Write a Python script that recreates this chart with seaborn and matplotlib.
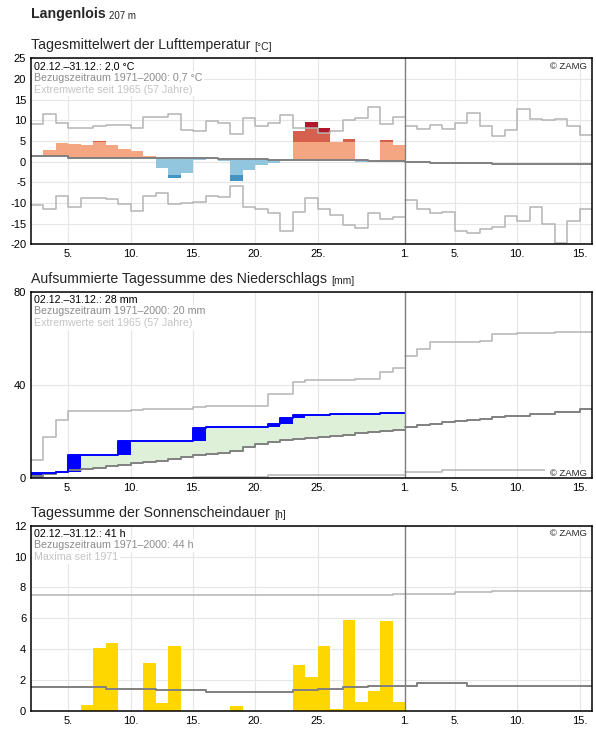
import matplotlib
matplotlib.use("Agg")
import matplotlib.pyplot as plt
import seaborn as sns

# day axis: 2 = 2.12., 31 = 31.12., 32 = 1.1., 46 = 15.1.
DEC_DAYS = list(range(2, 32))
JAN_DAYS = list(range(32, 47))
XTICKS = [5, 10, 15, 20, 25, 32, 36, 41, 46]
XTICK_LABELS = ["5.", "10.", "15.", "20.", "25.", "1.", "5.", "10.", "15."]

# --- air temperature (°C), daily mean 2.12.-31.12.
TEMP = [1.25, 2.8, 4.45, 4.3, 4.0, 4.9, 4.0, 3.0, 2.5, 1.3,
        -1.6, -4.0, -2.8, 0.4, 1.0, 0.1, -4.7, -2.0, -0.9, -0.3,
        0.5, 7.3, 9.5, 8.1, 4.8, 5.4, -0.1, 0.1, 5.2, 4.0]
TEMP_NORMAL_DEC = [1.25, 1.25, 1.25, 1.0, 1.0, 1.0, 1.0, 1.0, 1.0, 1.0,
                   1.0, 1.0, 1.0, 1.0, 1.0, 0.75, 0.75, 0.75, 0.75, 0.5,
                   0.5, 0.5, 0.5, 0.5, 0.3, 0.3, 0.3, 0.1, 0.1, 0.1]
TEMP_NORMAL_JAN = [-0.2, -0.2, -0.3, -0.3, -0.4, -0.4, -0.4, -0.5, -0.5, -0.5,
                   -0.6, -0.6, -0.6, -0.6, -0.5]
TEMP_MAX_DEC = [9.2, 11.6, 9.4, 8.2, 8.2, 8.7, 8.9, 8.9, 8.2, 10.9,
                10.9, 11.6, 7.7, 7.5, 9.9, 9.4, 6.8, 10.6, 8.7, 9.4,
                11.3, 8.2, 8.2, 7.0, 7.5, 10.1, 10.6, 13.3, 9.2, 10.7]
TEMP_MAX_JAN = [8.5, 8.0, 8.9, 8.0, 9.25, 11.8, 8.5, 6.1, 7.7, 12.8,
                10.4, 10.1, 10.4, 8.5, 6.5]
TEMP_MIN_DEC = [-10.5, -11.5, -8.2, -11.0, -8.9, -8.9, -9.1, -10.3, -11.9, -8.2,
                -7.5, -10.3, -10.0, -9.7, -8.2, -8.5, -6.0, -10.9, -11.5, -12.5,
                -16.9, -12.2, -8.8, -11.5, -13.0, -15.3, -16.1, -12.5, -13.9, -13.3]
TEMP_MIN_JAN = [-9.4, -11.5, -12.5, -12.2, -16.8, -17.2, -16.3, -15.8, -13.1, -14.4,
                -11.0, -15.0, -19.7, -14.4, -11.5]
TEMP_WARM_LIMIT = 4.8
TEMP_COLD_LIMIT = -3.3

# --- precipitation (mm)
PRECIP_DAILY = [2.4, 0.0, 0.4, 7.0, 0.0, 0.0, 0.0, 6.4, 0.0, 0.0,
                0.0, 0.0, 0.0, 5.5, 0.4, 0.0, 0.0, 0.0, 0.0, 1.1,
                2.7, 1.3, 0.0, 0.0, 0.4, 0.0, 0.0, 0.0, 0.4, 0.0]
PRECIP_NORMAL_DEC = [1.0, 1.8, 2.8, 3.4, 4.0, 4.4, 5.2, 5.9, 6.4, 6.9,
                     7.6, 8.2, 9.2, 10.0, 10.6, 11.0, 11.7, 13.3, 14.7, 15.7,
                     16.3, 16.7, 17.3, 17.6, 18.0, 18.6, 19.4, 19.8, 20.3, 20.6]
PRECIP_NORMAL_JAN = [22.1, 22.7, 23.4, 24.1, 24.7, 25.1, 25.5, 26.1, 26.5, 26.9,
                     27.7, 27.7, 28.5, 28.5, 29.9]
PRECIP_MAX_DEC = [7.7, 17.7, 25.1, 28.9, 28.9, 28.9, 28.9, 28.9, 29.4, 29.9,
                  29.9, 29.9, 29.9, 30.5, 31.1, 31.1, 31.1, 31.1, 31.1, 36.2,
                  36.2, 41.4, 42.1, 42.1, 42.1, 42.1, 42.4, 42.4, 45.5, 47.2]
PRECIP_MAX_JAN = [52.6, 55.3, 58.3, 58.3, 58.3, 58.3, 58.7, 61.7, 61.7, 62.1,
                  62.1, 62.1, 62.6, 62.6, 62.6]
PRECIP_MIN_DEC = [0.0] * 13 + [0.4] * 6 + [1.3] * 11
PRECIP_MIN_JAN = [2.8, 2.8, 2.8] + [3.4] * 12

# --- sunshine duration (h)
SUN = [0.0, 0.0, 0.0, 0.0, 0.4, 4.1, 4.4, 0.0, 0.0, 3.1,
       0.5, 4.2, 0.0, 0.0, 0.0, 0.0, 0.3, 0.0, 0.0, 0.0,
       0.0, 3.0, 2.2, 4.2, 0.1, 5.9, 0.6, 1.3, 5.8, 0.6]
SUN_NORMAL_DEC = [1.55] * 6 + [1.45] * 4 + [1.35] * 4 + [1.25] * 7 + \
                 [1.35] * 2 + [1.45] * 2 + [1.55] * 2 + [1.65] * 3
SUN_NORMAL_JAN = [1.65] + [1.8] * 4 + [1.65] * 10
SUN_MAX_DEC = [7.5] * 29 + [7.6]
SUN_MAX_JAN = [7.6] * 4 + [7.7] * 3 + [7.8] * 8

GRAY_EXT = "#b4b4b4"
GRAY_NORM = "#808080"

sns.set_theme(style="white")
plt.rcParams["font.family"] = ["Liberation Sans", "DejaVu Sans"]
plt.rcParams["axes.unicode_minus"] = False

W, H = 596, 729
fig = plt.figure(figsize=(W / 100, H / 100), dpi=100)


def make_axes(top, bottom):
    ax = fig.add_axes([31 / W, 1 - bottom / H, (592 - 31) / W, (bottom - top) / H])
    ax.set_axisbelow(True)
    ax.grid(True, color="#e6e6e6", linewidth=0.8)
    for sp in ax.spines.values():
        sp.set_color("black")
        sp.set_linewidth(1.1)
        sp.set_zorder(3)
    ax.tick_params(length=0, pad=3.5, labelsize=8, colors="black")
    ax.set_xticks(XTICKS)
    ax.set_xticklabels(XTICK_LABELS)
    ax.set_xlim(2, 47)
    ax.axvline(32, color=GRAY_NORM, linewidth=1.0, zorder=2.35)
    return ax


def step_line(ax, days, values, color, lw):
    xs = days + [days[-1] + 1]
    ys = list(values) + [values[-1]]
    sns.lineplot(x=xs, y=ys, ax=ax, color=color, linewidth=lw,
                 drawstyle="steps-post", estimator=None, legend=False, zorder=2.3)


def panel_title(ax, text, unit):
    t = ax.annotate(text, xy=(0, 1), xycoords="axes fraction", xytext=(0, 9),
                    textcoords="offset pixels", fontsize=10.2, va="baseline", ha="left")
    ax.annotate(unit, xy=(1, 0), xycoords=t, xytext=(4, 0), textcoords="offset pixels",
                fontsize=7.5, va="bottom", ha="left")


def info_text(ax, lines):
    for (s, c), dy in zip(lines, [11, 22.7, 34.4]):
        ax.annotate(s, xy=(0, 1), xycoords="axes fraction", xytext=(3.5, -dy),
                    textcoords="offset pixels", fontsize=7.7, color=c, va="baseline",
                    ha="left", zorder=2.45,
                    bbox=dict(boxstyle="square,pad=0.15", fc="white", ec="none"))


def zamg(ax, bottom=False):
    if bottom:
        ax.annotate("© ZAMG", xy=(1, 0), xycoords="axes fraction", xytext=(-4.7, 2.6),
                    textcoords="offset pixels", fontsize=6.8, ha="right", va="baseline",
                    zorder=2.45, bbox=dict(boxstyle="square,pad=0.55", fc="white", ec="none"))
    else:
        ax.annotate("© ZAMG", xy=(1, 1), xycoords="axes fraction", xytext=(-4.7, -10.5),
                    textcoords="offset pixels", fontsize=6.8, ha="right", va="baseline",
                    zorder=2.45)


# station header
head = fig.text(31 / W, 1 - 18.3 / H, "Langenlois", fontsize=10.2, fontweight="bold",
                va="baseline", ha="left")
ax1 = make_axes(58.3, 244.3)
ax1.annotate("207 m", xy=(1, 0), xycoords=head, xytext=(3, 0), textcoords="offset pixels",
             fontsize=7, va="bottom", ha="left")

# ---- temperature
warm_cols = ["#f4a582", "#d6604d", "#b2182b"]
cold_cols = ["#92c5de", "#4393c3", "#2166ac"]
for d, v, n, hi, lo in zip(DEC_DAYS, TEMP, TEMP_NORMAL_DEC, TEMP_MAX_DEC, TEMP_MIN_DEC):
    if v > n:
        bands = [(-99, TEMP_WARM_LIMIT), (TEMP_WARM_LIMIT, hi), (hi, 99)]
        for (b0, b1), col in zip(bands, warm_cols):
            s0, s1 = max(b0, n), min(b1, v)
            if s1 > s0:
                ax1.bar(d, s1 - s0, bottom=s0, width=1, align="edge", color=col,
                        linewidth=0, zorder=2.1)
    elif v < n:
        bands = [(TEMP_COLD_LIMIT, 99), (lo, TEMP_COLD_LIMIT), (-99, lo)]
        for (b0, b1), col in zip(bands, cold_cols):
            s0, s1 = max(b0, v), min(b1, n)
            if s1 > s0:
                ax1.bar(d, s1 - s0, bottom=s0, width=1, align="edge", color=col,
                        linewidth=0, zorder=2.1)

step_line(ax1, DEC_DAYS, TEMP_MAX_DEC, GRAY_EXT, 1.1)
step_line(ax1, JAN_DAYS, TEMP_MAX_JAN, GRAY_EXT, 1.1)
step_line(ax1, DEC_DAYS, TEMP_MIN_DEC, GRAY_EXT, 1.1)
step_line(ax1, JAN_DAYS, TEMP_MIN_JAN, GRAY_EXT, 1.1)
step_line(ax1, DEC_DAYS, TEMP_NORMAL_DEC, GRAY_NORM, 1.4)
step_line(ax1, JAN_DAYS, TEMP_NORMAL_JAN, GRAY_NORM, 1.4)
ax1.set_ylim(-20, 25)
ax1.set_yticks(range(-20, 26, 5))
ax1.set_xlim(2, 47)
panel_title(ax1, "Tagesmittelwert der Lufttemperatur", "[°C]")
info_text(ax1, [("02.12.–31.12.: 2,0 °C", "black"),
                ("Bezugszeitraum 1971–2000: 0,7 °C", "#8c8c8c"),
                ("Extremwerte seit 1965 (57 Jahre)", "#c4c4c4")])
zamg(ax1)

# ---- precipitation
ax2 = make_axes(291.7, 478.3)
cum = []
total = 0.0
for p in PRECIP_DAILY:
    total += p
    cum.append(round(total, 2))
xs = DEC_DAYS + [DEC_DAYS[-1] + 1]
upper = [max(c, n) for c, n in zip(cum, PRECIP_NORMAL_DEC)]
ax2.fill_between(xs, PRECIP_NORMAL_DEC + [PRECIP_NORMAL_DEC[-1]], upper + [upper[-1]],
                 step="post", color="#dff0d8", linewidth=0, zorder=2.05)
for d, p, c in zip(DEC_DAYS, PRECIP_DAILY, cum):
    if p > 0:
        ax2.bar(d, p, bottom=c - p, width=1, align="edge", color="#0000ff",
                linewidth=0, zorder=2.1)
step_line(ax2, DEC_DAYS, PRECIP_MAX_DEC, GRAY_EXT, 1.1)
step_line(ax2, JAN_DAYS, PRECIP_MAX_JAN, GRAY_EXT, 1.1)
step_line(ax2, DEC_DAYS, PRECIP_MIN_DEC, GRAY_EXT, 1.1)
step_line(ax2, JAN_DAYS, PRECIP_MIN_JAN, GRAY_EXT, 1.1)
step_line(ax2, DEC_DAYS, PRECIP_NORMAL_DEC, GRAY_NORM, 1.4)
step_line(ax2, JAN_DAYS, PRECIP_NORMAL_JAN, GRAY_NORM, 1.4)
step_line(ax2, DEC_DAYS, cum, "#0000ff", 1.4)
ax2.set_ylim(0, 80)
ax2.set_yticks([0, 40, 80])
ax2.set_xlim(2, 47)
panel_title(ax2, "Aufsummierte Tagessumme des Niederschlags", "[mm]")
info_text(ax2, [("02.12.–31.12.: 28 mm", "black"),
                ("Bezugszeitraum 1971–2000: 20 mm", "#8c8c8c"),
                ("Extremwerte seit 1965 (57 Jahre)", "#c4c4c4")])
zamg(ax2, bottom=True)

# ---- sunshine
ax3 = make_axes(525.7, 711.0)
ax3.bar(DEC_DAYS, SUN, width=1, align="edge", color="#ffd700", linewidth=0, zorder=2.1)
step_line(ax3, DEC_DAYS, SUN_MAX_DEC, GRAY_EXT, 1.1)
step_line(ax3, JAN_DAYS, SUN_MAX_JAN, GRAY_EXT, 1.1)
step_line(ax3, DEC_DAYS, SUN_NORMAL_DEC, GRAY_NORM, 1.4)
step_line(ax3, JAN_DAYS, SUN_NORMAL_JAN, GRAY_NORM, 1.4)
ax3.set_ylim(0, 12)
ax3.set_yticks(range(0, 13, 2))
ax3.set_xlim(2, 47)
panel_title(ax3, "Tagessumme der Sonnenscheindauer", "[h]")
info_text(ax3, [("02.12.–31.12.: 41 h", "black"),
                ("Bezugszeitraum 1971–2000: 44 h", "#8c8c8c"),
                ("Maxima seit 1971", "#c4c4c4")])
zamg(ax3)

for ax in (ax1, ax2, ax3):
    ax.set_xlabel("")
    ax.set_ylabel("")

fig.savefig("out.png", dpi=100)
